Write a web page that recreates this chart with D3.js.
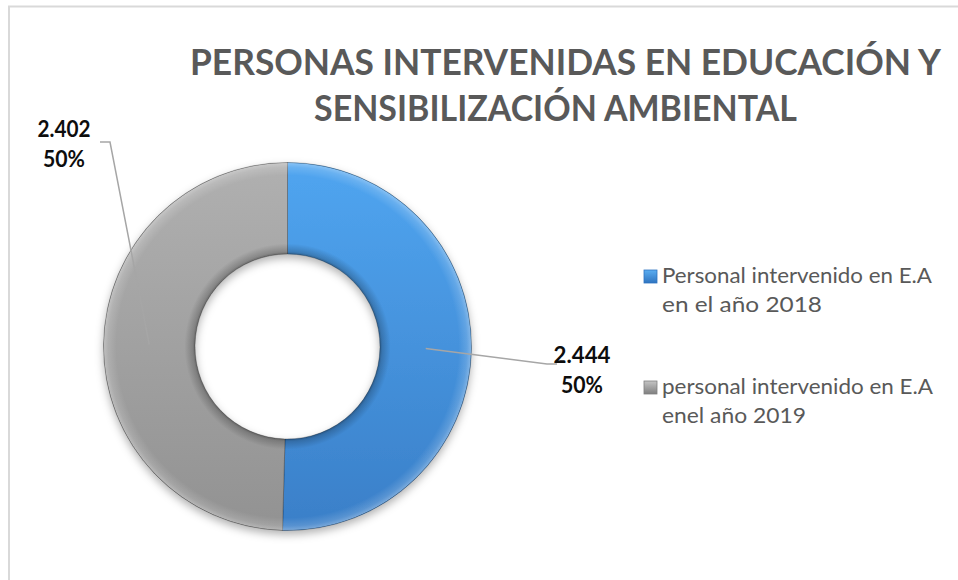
<!DOCTYPE html>
<html>
<head>
<meta charset="utf-8">
<script src="https://cdn.jsdelivr.net/npm/d3@7/dist/d3.min.js"></script>
<style>
  html, body { margin: 0; padding: 0; background: #ffffff; }
  svg { display: block; }
  text { font-family: Lato, "Open Sans", "Noto Sans", sans-serif; }
</style>
</head>
<body>
<svg id="chart" width="958" height="580"></svg>
<script>
// ---- data ----
const titleLines = ["PERSONAS INTERVENIDAS EN EDUCACIÓN Y", "SENSIBILIZACIÓN AMBIENTAL"];
const categories = ["Personal intervenido en E.A en el año 2018", "personal intervenido en E.A enel año 2019"];
const legendLines = [["Personal intervenido en E.A", "en el año 2018"], ["personal intervenido en E.A", "enel año 2019"]];
const values = [2444, 2402];

// ---- styles ----
const sliceColors = [["#50a5f0", "#3a7fc8"], ["#b0b0b0", "#929292"]];
const markerColors = [["#5aaef2", "#2f74c0"], ["#c4c4c4", "#7f7f7f"]];

const svg = d3.select("#chart");

const locale = d3.formatLocale({decimal: ",", thousands: ".", grouping: [3], currency: ["", ""]});
const fmtNum = locale.format(",");
const fmtPct = d3.format(".0%");

function fitText(sel, target) {
  const w = sel.node().getComputedTextLength();
  if (target && Math.abs(w - target) > 1) {
    sel.attr("textLength", target).attr("lengthAdjust", "spacingAndGlyphs");
  }
  return sel;
}

// chart border
svg.append("rect")
  .attr("x", 9).attr("y", 6.5).attr("width", 1000).attr("height", 1000)
  .attr("fill", "none").attr("stroke", "#d9d9d9").attr("stroke-width", 2);

// defs
const defs = svg.append("defs");
const cx = 287.5, cy = 346.5, rOuter = 184, rInner = 92.5;

sliceColors.forEach((c, i) => {
  const g = defs.append("linearGradient").attr("id", "grad" + i)
    .attr("gradientUnits", "userSpaceOnUse")
    .attr("x1", 0).attr("y1", -rOuter).attr("x2", 0).attr("y2", rOuter);
  g.append("stop").attr("offset", 0).attr("stop-color", c[0]);
  g.append("stop").attr("offset", 1).attr("stop-color", c[1]);
});
markerColors.forEach((c, i) => {
  const g = defs.append("linearGradient").attr("id", "mgrad" + i)
    .attr("x1", 0).attr("y1", 0).attr("x2", 0).attr("y2", 1);
  g.append("stop").attr("offset", 0).attr("stop-color", c[0]);
  g.append("stop").attr("offset", 1).attr("stop-color", c[1]);
});
const bevel = defs.append("radialGradient").attr("id", "bevel")
  .attr("gradientUnits", "userSpaceOnUse")
  .attr("cx", 0).attr("cy", 0).attr("r", rOuter);
[[0.5, "#000", 0.4], [0.515, "#000", 0.2], [0.56, "#000", 0], [0.93, "#fff", 0], [0.975, "#fff", 0.15], [0.995, "#fff", 0.3], [1, "#000", 0.2]]
  .forEach(s => bevel.append("stop").attr("offset", s[0]).attr("stop-color", s[1]).attr("stop-opacity", s[2]));

const shadow = defs.append("filter").attr("id", "shadow")
  .attr("x", "-20%").attr("y", "-20%").attr("width", "140%").attr("height", "140%");
shadow.append("feDropShadow").attr("dx", 0).attr("dy", 4).attr("stdDeviation", 4)
  .attr("flood-color", "#000").attr("flood-opacity", 0.3);

// title
const titleG = svg.append("g").attr("fill", "#595959").attr("font-weight", "bold").attr("font-size", 36);
const titleSpecs = [{x: 565.5, y: 75, w: 751}, {x: 555.5, y: 121, w: 483}];
titleLines.forEach((t, i) => {
  const s = titleG.append("text").attr("x", titleSpecs[i].x).attr("y", titleSpecs[i].y)
    .attr("text-anchor", "middle").text(t);
  fitText(s, titleSpecs[i].w);
});

// donut
const pie = d3.pie().sort(null).value(d => d).startAngle(0).endAngle(2 * Math.PI);
const arcs = pie(values);
const arc = d3.arc().innerRadius(rInner).outerRadius(rOuter);
const total = d3.sum(values);

const donut = svg.append("g").attr("transform", `translate(${cx},${cy})`);
const sliceG = donut.append("g").attr("filter", "url(#shadow)");
sliceG.selectAll("path.slice").data(arcs).enter().append("path")
  .attr("class", "slice")
  .attr("d", arc)
  .attr("fill", (d, i) => `url(#grad${i})`)
  .attr("stroke", "rgba(0,0,0,0.3)").attr("stroke-width", 0.8);
donut.append("g").selectAll("path").data(arcs).enter().append("path")
  .attr("d", arc)
  .attr("fill", "url(#bevel)")
  .attr("pointer-events", "none");

// data labels with leader lines
const labelSpecs = [
  {elbow: [547, 364], end: [557, 364], lx: 582, ly: 363},
  {elbow: [110, 142], end: [100, 142], lx: 64, ly: 137}
];
const labelWidths = [[57, 42], [53, 42]];
const lblG = svg.append("g");
arcs.forEach((d, i) => {
  const c = arc.centroid(d);
  const p0 = [cx + c[0], cy + c[1]];
  const sp = labelSpecs[i];
  lblG.append("path")
    .attr("d", d3.line()([p0, sp.elbow, sp.end]))
    .attr("fill", "none").attr("stroke", "#a6a6a6").attr("stroke-width", 1.5);
  const t1 = lblG.append("text").attr("x", sp.lx).attr("y", sp.ly)
    .attr("text-anchor", "middle").attr("font-weight", "bold").attr("font-size", 23)
    .attr("fill", "#0d0d0d").text(fmtNum(d.data));
  fitText(t1, labelWidths[i][0]);
  const t2 = lblG.append("text").attr("x", sp.lx).attr("y", sp.ly + 30)
    .attr("text-anchor", "middle").attr("font-weight", "bold").attr("font-size", 23)
    .attr("fill", "#0d0d0d").text(fmtPct(d.data / total));
  fitText(t2, labelWidths[i][1]);
});

// legend
const legendSpecs = [{y: 283}, {y: 394}];
const legendWidths = [[270, 160], [271, 144]];
const legG = svg.append("g");
categories.forEach((cat, i) => {
  const y = legendSpecs[i].y;
  legG.append("rect").attr("x", 644).attr("y", y - 13).attr("width", 13).attr("height", 13)
    .attr("fill", `url(#mgrad${i})`).attr("stroke", markerColors[i][1]).attr("stroke-width", 0.8);
  legendLines[i].forEach((ln, j) => {
    const t = legG.append("text").attr("x", 662).attr("y", y + j * 29)
      .attr("font-size", 22).attr("fill", "#595959").text(ln);
    fitText(t, legendWidths[i][j]);
  });
});
</script>
</body>
</html>
